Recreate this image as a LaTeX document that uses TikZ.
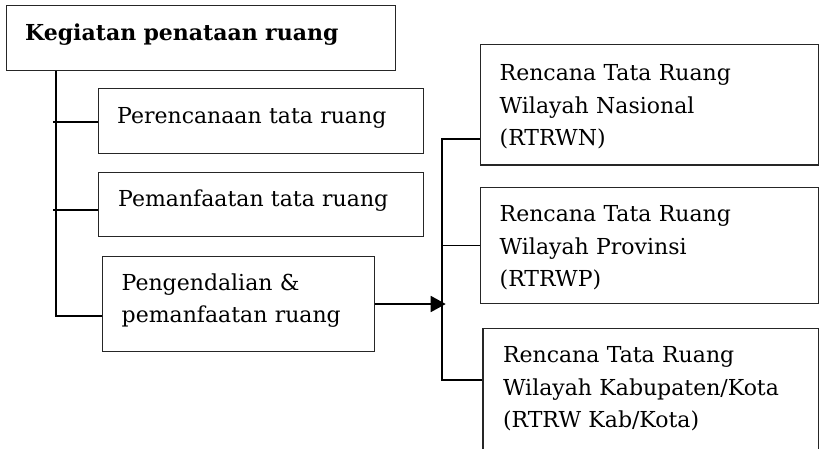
\documentclass[tikz,border=0pt]{standalone}
\usepackage{fontspec}
\setmainfont{DejaVu Serif}
\usetikzlibrary{arrows.meta}
\begin{document}
\begin{tikzpicture}[x=1pt,y=-1pt,
  boxnode/.style={draw=black!85,line width=1.3pt,rectangle,inner sep=0pt,anchor=north west},
  txt/.style={anchor=base west,inner sep=0pt,text width=330pt,align=left,
    font=\fontsize{22}{32.5}\selectfont},
  conn/.style={draw=black,line width=1.7pt}]
\useasboundingbox (0,0) rectangle (819,448);
% boxes
\node[boxnode,minimum width=389pt,minimum height=65pt] (title) at (6,5) {};
\node[boxnode,minimum width=325pt,minimum height=64.7pt] (p1) at (97.5,88) {};
\node[boxnode,minimum width=325pt,minimum height=64pt] (p2) at (98,172) {};
\node[boxnode,minimum width=272.3pt,minimum height=95.3pt] (p3) at (101.7,255.7) {};
\node[boxnode,minimum width=337.7pt,minimum height=120.3pt] (r1) at (480,44) {};
\node[boxnode,minimum width=337.7pt,minimum height=116pt] (r2) at (480,186.7) {};
\node[boxnode,minimum width=335.4pt,minimum height=126pt] (r3) at (482.3,327.7) {};
% texts
\node[txt,font=\fontsize{22}{32.5}\selectfont\bfseries] (ttitle) at (25,40) {Kegiatan penataan ruang};
\node[txt] (tp1) at (117,123) {Perencanaan tata ruang};
\node[txt] (tp2) at (118,206.7) {Pemanfaatan tata ruang};
\node[txt] (tp3) at (121.5,290) {Pengendalian \&\\pemanfaatan ruang};
\node[txt] (tr1) at (499.5,80.5) {Rencana Tata Ruang\\Wilayah Nasional\\(RTRWN)};
\node[txt] (tr2) at (499.5,221.7) {Rencana Tata Ruang\\Wilayah Provinsi\\(RTRWP)};
\node[txt] (tr3) at (502.8,362.7) {Rencana Tata Ruang\\Wilayah Kabupaten/Kota\\(RTRW Kab/Kota)};
% left trunk
\coordinate (lb) at (55.7,316);
\coordinate (t1) at (53,122);
\coordinate (t2) at (53,210);
\draw[conn] (title.south -| lb) -- (lb) -- (lb -| p3.west);
\draw[conn] (t1) -- (t1 -| p1.west);
\draw[conn] (t2) -- (t2 -| p2.west);
% right trunk
\coordinate (rt) at (441.7,139.3);
\coordinate (rb) at (441.7,380);
\draw[conn] (rt -| r1.west) -- (rt) -- (rb) -- (rb -| r3.west);
\draw[conn] (r2.west) -- (r2.west -| rt);
% arrow
\draw[conn,-{Triangle[length=15pt,width=16pt]}] (p3.east) -- ([xshift=4pt]p3.east -| rt);
\end{tikzpicture}
\end{document}
